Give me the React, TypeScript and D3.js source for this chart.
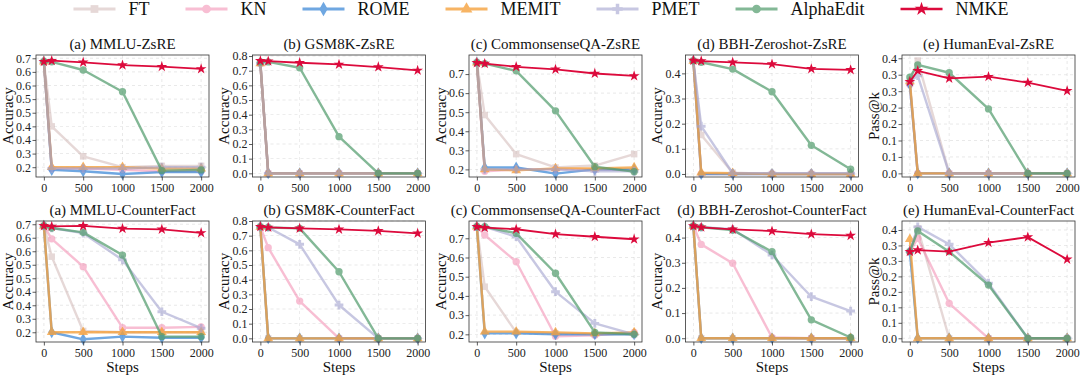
import React, { useEffect, useRef } from "react"
import * as d3 from "d3"

// x positions of the evaluation points
const steps = [0, 100, 500, 1000, 1500, 2000]
const xTicks = [0, 500, 1000, 1500, 2000]

const methods = ["FT", "KN", "ROME", "MEMIT", "PMET", "AlphaEdit", "NMKE"]
const colors = ["#c8a9a7", "#f27fa8", "#3f8ad8", "#f6a23e", "#a3a3cf", "#4f9b6b", "#dc0a3c"]
const alphas = [0.45, 0.5, 0.75, 0.8, 0.6, 0.7, 1]
const symbols = [d3.symbolSquare, d3.symbolCircle, d3.symbolDiamond, d3.symbolTriangle, d3.symbolCross, d3.symbolCircle, d3.symbolStar]

// series in method order: FT, KN, ROME, MEMIT, PMET, AlphaEdit, NMKE
const mmluZsre = [
  [0.638, 0.40, 0.29, 0.25, 0.255, 0.255],
  [0.638, 0.245, 0.245, 0.24, 0.235, 0.235],
  [0.638, 0.24, 0.235, 0.225, 0.232, 0.232],
  [0.638, 0.25, 0.25, 0.25, 0.245, 0.245],
  [0.638, 0.245, 0.245, 0.245, 0.25, 0.25],
  [0.638, 0.637, 0.607, 0.527, 0.2375, 0.24],
  [0.6375, 0.641, 0.635, 0.625, 0.619, 0.611],
]
const gsmZsre = [
  [0.75, 0, 0, 0, 0, 0],
  [0.75, 0, 0, 0, 0, 0],
  [0.75, 0, 0, 0, 0, 0],
  [0.75, 0, 0, 0, 0, 0],
  [0.75, 0, 0, 0, 0, 0],
  [0.76, 0.76, 0.72, 0.25, 0, 0],
  [0.767, 0.765, 0.754, 0.743, 0.725, 0.702],
]
const csqaZsre = [
  [0.76, 0.485, 0.28, 0.21, 0.22, 0.28],
  [0.76, 0.19, 0.2, 0.2, 0.2, 0.195],
  [0.76, 0.21, 0.21, 0.178, 0.2, 0.2],
  [0.76, 0.2, 0.195, 0.205, 0.205, 0.21],
  [0.76, 0.2, 0.2, 0.2, 0.19, 0.19],
  [0.76, 0.755, 0.717, 0.507, 0.214, 0.188],
  [0.759, 0.755, 0.738, 0.725, 0.703, 0.69],
]
const bbhZsre = [
  [0.45, 0.155, 0.005, 0, 0, 0],
  [0.45, 0, 0, 0, 0, 0],
  [0.45, 0, 0, 0, 0, 0],
  [0.45, 0.005, 0.003, 0, 0, 0],
  [0.45, 0.19, 0.003, 0.003, 0.003, 0.003],
  [0.45, 0.444, 0.417, 0.327, 0.114, 0.019],
  [0.451, 0.449, 0.444, 0.437, 0.418, 0.414],
]
const humanZsre = [
  [0.28, 0.343, 0, 0, 0, 0],
  [0.27, 0, 0, 0, 0, 0],
  [0.27, 0, 0, 0, 0, 0],
  [0.28, 0, 0, 0, 0, 0],
  [0.28, 0.297, 0, 0, 0, 0],
  [0.293, 0.33, 0.306, 0.196, 0, 0],
  [0.279, 0.312, 0.289, 0.294, 0.276, 0.251],
]
const mmluCf = [
  [0.645, 0.53, 0.255, 0.25, 0.25, 0.25],
  [0.644, 0.596, 0.493, 0.267, 0.267, 0.27],
  [0.644, 0.25, 0.224, 0.234, 0.23, 0.23],
  [0.644, 0.25, 0.25, 0.25, 0.25, 0.25],
  [0.644, 0.636, 0.617, 0.518, 0.326, 0.265],
  [0.644, 0.636, 0.62, 0.536, 0.234, 0.234],
  [0.644, 0.642, 0.644, 0.634, 0.631, 0.618],
]
const gsmCf = [
  [0.76, 0, 0, 0, 0, 0],
  [0.76, 0.618, 0.254, 0, 0, 0],
  [0.76, 0, 0, 0, 0, 0],
  [0.76, 0, 0, 0, 0, 0],
  [0.76, 0.756, 0.641, 0.227, 0, 0],
  [0.76, 0.756, 0.75, 0.454, 0, 0],
  [0.761, 0.756, 0.75, 0.743, 0.733, 0.716],
]
const csqaCf = [
  [0.76, 0.448, 0.21, 0.205, 0.2, 0.2],
  [0.76, 0.717, 0.578, 0.19, 0.195, 0.21],
  [0.76, 0.205, 0.205, 0.2, 0.2, 0.2],
  [0.76, 0.214, 0.214, 0.21, 0.205, 0.21],
  [0.76, 0.76, 0.708, 0.422, 0.257, 0.2],
  [0.76, 0.76, 0.726, 0.518, 0.21, 0.2],
  [0.76, 0.755, 0.747, 0.722, 0.708, 0.695],
]
const bbhCf = [
  [0.446, 0, 0, 0, 0, 0],
  [0.446, 0.373, 0.298, 0.003, 0, 0],
  [0.446, 0, 0, 0, 0, 0],
  [0.446, 0, 0, 0, 0, 0],
  [0.446, 0.441, 0.433, 0.331, 0.165, 0.108],
  [0.446, 0.441, 0.43, 0.344, 0.073, 0.003],
  [0.446, 0.441, 0.433, 0.426, 0.414, 0.408],
]
const humanCf = [
  [0.28, 0.355, 0, 0, 0, 0],
  [0.28, 0.323, 0.113, 0, 0, 0],
  [0.28, 0, 0, 0, 0, 0],
  [0.32, 0, 0, 0, 0, 0],
  [0.28, 0.36, 0.304, 0.178, 0, 0],
  [0.28, 0.347, 0.28, 0.172, 0, 0],
  [0.28, 0.285, 0.28, 0.309, 0.327, 0.255],
]

// y ticks and their printed labels
const mmluTicks = [0.65, 0.6, 0.55, 0.5, 0.45, 0.4, 0.35, 0.3, 0.25]
const mmluLabels = ["0.7", "0.6", "0.6", "0.5", "0.5", "0.4", "0.4", "0.3", "0.2"]
const gsmTicks = [0.8, 0.7, 0.6, 0.5, 0.4, 0.3, 0.2, 0.1, 0.0]
const gsmLabels = ["0.8", "0.7", "0.6", "0.5", "0.4", "0.3", "0.2", "0.1", "0.0"]
const csqaTicks = [0.7, 0.6, 0.5, 0.4, 0.3, 0.2]
const csqaLabels = ["0.7", "0.6", "0.5", "0.4", "0.3", "0.2"]
const bbhTicks = [0.4, 0.3, 0.2, 0.1, 0.0]
const bbhLabels = ["0.4", "0.3", "0.2", "0.1", "0.0"]
const humanTicks = [0.35, 0.3, 0.25, 0.2, 0.15, 0.1, 0.05, 0.0]
const humanLabels = ["0.4", "0.3", "0.3", "0.2", "0.2", "0.1", "0.1", "0.0"]

const panels = [
  { title: "(a) MMLU-ZsRE", ylabel: "Accuracy", data: mmluZsre, dom: [0.214, 0.662], ticks: mmluTicks, labels: mmluLabels },
  { title: "(b) GSM8K-ZsRE", ylabel: "Accuracy", data: gsmZsre, dom: [-0.025, 0.807], ticks: gsmTicks, labels: gsmLabels },
  { title: "(c) CommonsenseQA-ZsRE", ylabel: "Accuracy", data: csqaZsre, dom: [0.16, 0.8], ticks: csqaTicks, labels: csqaLabels },
  { title: "(d) BBH-Zeroshot-ZsRE", ylabel: "Accuracy", data: bbhZsre, dom: [-0.012, 0.473], ticks: bbhTicks, labels: bbhLabels },
  { title: "(e) HumanEval-ZsRE", ylabel: "Pass@k", data: humanZsre, dom: [-0.011, 0.36], ticks: humanTicks, labels: humanLabels },
  { title: "(a) MMLU-CounterFact", ylabel: "Accuracy", data: mmluCf, dom: [0.214, 0.662], ticks: mmluTicks, labels: mmluLabels },
  { title: "(b) GSM8K-CounterFact", ylabel: "Accuracy", data: gsmCf, dom: [-0.025, 0.8], ticks: gsmTicks, labels: gsmLabels },
  { title: "(c) CommonsenseQA-CounterFact", ylabel: "Accuracy", data: csqaCf, dom: [0.16, 0.79], ticks: csqaTicks, labels: csqaLabels },
  { title: "(d) BBH-Zeroshot-CounterFact", ylabel: "Accuracy", data: bbhCf, dom: [-0.015, 0.466], ticks: bbhTicks, labels: bbhLabels },
  { title: "(e) HumanEval-CounterFact", ylabel: "Pass@k", data: humanCf, dom: [-0.012, 0.379], ticks: humanTicks, labels: humanLabels },
]

const font = "Liberation Serif, serif"

export default function App() {
  const ref = useRef<SVGSVGElement>(null)

  useEffect(() => {
    document.body.style.margin = "0"
    const svg = d3.select(ref.current)
    svg.selectAll("*").remove()

    const boxW = 173
    const rowTop = [55, 221]
    const rowBottom = [177, 342]

    panels.forEach((p, k) => {
      const row = Math.floor(k / 5)
      const left = 36 + (k % 5) * 216.5
      const x = d3.scaleLinear().domain([-100, 2100]).range([left, left + boxW])
      const y = d3.scaleLinear().domain(p.dom).range([rowBottom[row], rowTop[row]])
      const g = svg.append("g")

      // grid
      g.selectAll(".gx").data(xTicks).enter().append("line")
        .attr("x1", d => x(d)).attr("x2", d => x(d))
        .attr("y1", rowTop[row]).attr("y2", rowBottom[row])
        .attr("stroke", "#b8b8b8").attr("stroke-width", 0.6)
        .attr("stroke-dasharray", "3,3").attr("opacity", 0.5)
      g.selectAll(".gy").data(p.ticks).enter().append("line")
        .attr("x1", left).attr("x2", left + boxW)
        .attr("y1", d => y(d)).attr("y2", d => y(d))
        .attr("stroke", "#b8b8b8").attr("stroke-width", 0.6)
        .attr("stroke-dasharray", "3,3").attr("opacity", 0.5)

      const line = d3.line<number>().x((d, i) => x(steps[i])).y(d => y(d))

      p.data.forEach((vals, m) => {
        const sg = g.append("g").attr("opacity", alphas[m])
        sg.append("path")
          .attr("d", line(vals))
          .attr("fill", "none")
          .attr("stroke", colors[m])
          .attr("stroke-width", m === 6 ? 1.8 : 2.4)
          .attr("stroke-linejoin", "round")
        sg.selectAll("path.mk").data(vals).enter().append("path")
          .attr("class", "mk")
          .attr("d", d3.symbol().type(symbols[m]).size(m === 6 ? 36 : 42)())
          .attr("transform", (d, i) => `translate(${x(steps[i])},${y(d)})`)
          .attr("fill", colors[m])
      })

      // box
      g.append("rect")
        .attr("x", left).attr("y", rowTop[row])
        .attr("width", boxW).attr("height", rowBottom[row] - rowTop[row])
        .attr("fill", "none").attr("stroke", "#333").attr("stroke-width", 0.8)

      const xAxis = g.append("g")
        .attr("transform", `translate(0,${rowBottom[row]})`)
        .call(d3.axisBottom(x).tickValues(xTicks).tickSize(3.5).tickPadding(3).tickFormat(d3.format("d")))
      const yAxis = g.append("g")
        .attr("transform", `translate(${left},0)`)
        .call(d3.axisLeft(y).tickValues(p.ticks).tickSize(3.5).tickPadding(1.5)
          .tickFormat((d, i) => p.labels[i]))
      ;[xAxis, yAxis].forEach(a => {
        a.select(".domain").remove()
        a.selectAll("line").attr("stroke", "#333").attr("stroke-width", 0.8)
        a.selectAll("text").attr("font-family", null).attr("font-size", null)
          .style("font-family", font).style("font-size", "12px").attr("fill", "#222")
      })

      g.append("text")
        .attr("x", left + boxW / 2).attr("y", rowTop[row] - 6)
        .attr("text-anchor", "middle")
        .style("font-family", font).style("font-size", "15px").attr("fill", "#111")
        .text(p.title)

      g.append("text")
        .attr("transform", `translate(${left - 23.5},${(rowTop[row] + rowBottom[row]) / 2}) rotate(-90)`)
        .attr("text-anchor", "middle")
        .style("font-family", font).style("font-size", "15px").attr("fill", "#111")
        .text(p.ylabel)

      if (row === 1) {
        g.append("text")
          .attr("x", left + boxW / 2).attr("y", 371.5)
          .attr("text-anchor", "middle")
          .style("font-family", font).style("font-size", "15px").attr("fill", "#111")
          .text("Steps")
      }
    })

    // legend, centred over the figure
    const leg = svg.append("g").attr("transform", "translate(0,9)")
    const items = methods.map((name, m) => {
      const it = leg.append("g")
      const sg = it.append("g").attr("opacity", alphas[m])
      sg.append("line").attr("x1", 0).attr("x2", 42).attr("y1", 0).attr("y2", 0)
        .attr("stroke", colors[m]).attr("stroke-width", m === 6 ? 2.5 : 3)
      sg.append("path")
        .attr("d", d3.symbol().type(symbols[m]).size(60)())
        .attr("transform", "translate(21,0)")
        .attr("fill", colors[m])
      const t = it.append("text").attr("x", 55).attr("y", 6)
        .style("font-family", font).style("font-size", "18px").attr("fill", "#111")
        .text(name)
      const w = (t.node() as SVGTextElement).getComputedTextLength()
      return { it, w: 55 + w }
    })
    const gap = 36
    const total = d3.sum(items, d => d.w) + gap * (items.length - 1)
    let cx = 541 - total / 2
    items.forEach(d => {
      d.it.attr("transform", `translate(${cx},0)`)
      cx += d.w + gap
    })
  }, [])

  return <svg ref={ref} width={1080} height={377} style={{ display: "block" }} />
}
